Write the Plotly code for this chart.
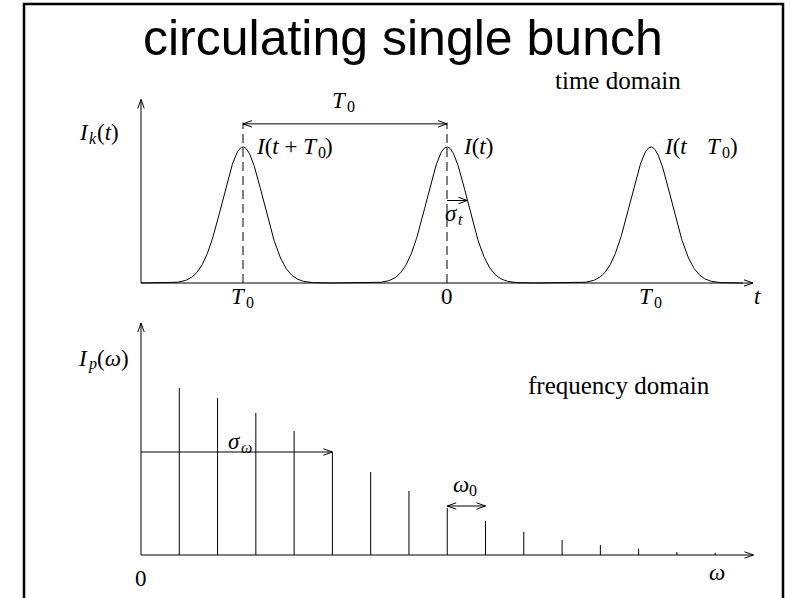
import numpy as np
import plotly.graph_objects as go

W, H = 791, 598

# --- time domain: bunch positions (in units of T0) and rms length ---
bunch_centers = [-1.0, 0.0, 1.0]
sigma_t = 0.1
time_ticks = [-1.0, 0.0, 1.0]

# --- frequency domain: harmonic index and spectral line heights ---
harmonics = list(range(1, 16))
line_heights = [1.67, 1.57, 1.42, 1.24, 1.03, 0.83, 0.64, 0.47,
                0.34, 0.23, 0.15, 0.10, 0.063, 0.03, 0.023]
sigma_w = 5  # in units of the revolution harmonic

# Each panel: pixel origin and pixels per data unit, plus the pixel box
# the subplot occupies (a little larger than the drawn axes so that
# lines on the axes are not clipped).
TIME = dict(ox=447, oy=283, sx=204, sy=136, box=(120, 770, 300, 88))
FREQ = dict(ox=141, oy=555, sx=38.28, sy=100, box=(120, 770, 565, 312))

px = lambda x: x / W          # pixel -> paper x
py = lambda y: 1 - y / H      # pixel -> paper y


def axis_setup(p):
    x0, x1, y0, y1 = p["box"]
    xr = [(x0 - p["ox"]) / p["sx"], (x1 - p["ox"]) / p["sx"]]
    yr = [(p["oy"] - y0) / p["sy"], (p["oy"] - y1) / p["sy"]]
    return ([px(x0), px(x1)], xr, [py(y0), py(y1)], yr)


def pix(p, x, y):
    """data -> page pixel position"""
    return (p["ox"] + x * p["sx"], p["oy"] - y * p["sy"])


fig = go.Figure()

# page frame drawn on a full-page pixel axis
fig.add_trace(go.Scatter(x=[24, 24, 783, 783], y=[H, 4, 4, H], mode="lines",
                         line=dict(color="black", width=2.5),
                         xaxis="x3", yaxis="y3", hoverinfo="skip"))

# bunch train
t = np.linspace(-1.5, 1.45, 1200)
current = np.zeros_like(t)
for c in bunch_centers:
    current += np.exp(-0.5 * ((t - c) / sigma_t) ** 2)
fig.add_trace(go.Scatter(x=t, y=current, mode="lines",
                         line=dict(color="black", width=1),
                         xaxis="x", yaxis="y", hoverinfo="skip"))

# dashed markers at -T0 and 0
dash_x, dash_y = [], []
for c in bunch_centers[:2]:
    dash_x += [c, c, None]
    dash_y += [0, 1.18, None]
fig.add_trace(go.Scatter(x=dash_x, y=dash_y, mode="lines",
                         line=dict(color="black", width=1, dash="9px,5px"),
                         xaxis="x", yaxis="y", hoverinfo="skip"))

# spectral lines
sx, sy = [], []
for k, h in zip(harmonics, line_heights):
    sx += [k, k, None]
    sy += [0, h, None]
fig.add_trace(go.Scatter(x=sx, y=sy, mode="lines",
                         line=dict(color="black", width=1),
                         xaxis="x2", yaxis="y2", hoverinfo="skip"))


# arrows with open chevron heads
HEAD_LEN, HEAD_HALF = 9.0, 3.2


def add_arrows(p, arrows, xa, ya):
    ax_, ay_ = [], []
    for (x0, y0, x1, y1, both) in arrows:
        ax_ += [x0, x1, None]
        ay_ += [y0, y1, None]
        ends = [((x0, y0), (x1, y1))]
        if both:
            ends.append(((x1, y1), (x0, y0)))
        for (bx, by), (tx, ty) in ends:
            dx, dy = (tx - bx) * p["sx"], (ty - by) * p["sy"]
            n = np.hypot(dx, dy)
            ux, uy = dx / n, dy / n
            for s in (1, -1):
                wx = -HEAD_LEN * ux + s * HEAD_HALF * (-uy)
                wy = -HEAD_LEN * uy + s * HEAD_HALF * ux
                ax_ += [tx + wx / p["sx"], tx, None]
                ay_ += [ty + wy / p["sy"], ty, None]
    fig.add_trace(go.Scatter(x=ax_, y=ay_, mode="lines",
                             line=dict(color="black", width=1),
                             xaxis=xa, yaxis=ya, hoverinfo="skip"))


add_arrows(TIME, [
    (-1.5, 0, -1.5, 1.35, False),                                   # current axis
    (-1.5, 0, 1.5, 0, False),                                        # time axis
    (bunch_centers[0], 1.17, bunch_centers[1], 1.17, True),          # T0 spacing
    (0, np.exp(-0.5), sigma_t, np.exp(-0.5), False),                 # sigma_t
], "x", "y")

add_arrows(FREQ, [
    (0, 0, 0, 2.32, False),                                          # spectrum axis
    (0, 0, 16.0, 0, False),                                          # frequency axis
    (0, line_heights[sigma_w - 1], sigma_w, line_heights[sigma_w - 1], False),
    (8, 0.49, 9, 0.49, True),                                        # omega_0 spacing
], "x2", "y2")

# ---------------- text ----------------
ann = []
SERIF = "Liberation Serif"
MAIN, SUB, SUB_DROP = 23, 16, 6


def text_at(x, y, text, size=MAIN, xanchor="center", yshift=0):
    ann.append(dict(x=px(x), y=py(y), xref="paper", yref="paper", text=text,
                    showarrow=False, xanchor=xanchor, yanchor="middle",
                    yshift=yshift, borderpad=0, borderwidth=0,
                    font=dict(family=SERIF, size=size, color="black")))


def formula(x, y, pieces):
    """pieces: (text, dx, kind) with kind 'r' = ends at x+dx,
    'l' = starts at x+dx, 's' = subscript starting at x+dx"""
    for txt, dx, kind in pieces:
        if kind == "s":
            text_at(x + dx, y, txt, size=SUB, xanchor="left", yshift=-SUB_DROP)
        else:
            text_at(x + dx, y, txt, xanchor="right" if kind == "r" else "left")


T_, I_, t_ = "<i>T</i>", "<i>I</i>", "<i>t</i>"
w_, s_ = "<i>ω</i>", "<i>σ</i>"

# time domain
x, y = pix(TIME, -0.5, 1.34)
formula(x, y, [(T_, 2, "r"), ("0", 2, "s")])
x, y = pix(TIME, 0.0, 0.51)
formula(x, y, [(s_, 11, "r"), (t_, 11, "s")])

x, y = pix(TIME, bunch_centers[0], 1.0)
formula(x, y, [(f"{I_}({t_} + {T_}", 75, "r"), ("0", 75, "s"), (")", 82, "l")])
x, y = pix(TIME, bunch_centers[1], 1.0)
formula(x, y, [(f"{I_}({t_})", 16, "l")])
x, y = pix(TIME, bunch_centers[2], 1.0)
formula(x, y, [(f"{I_}({t_}", 13, "l"), (T_, 71, "r"), ("0", 71, "s"), (")", 79, "l")])

for v in time_ticks:
    x, y = pix(TIME, v, -0.10)
    if v == 0:
        text_at(x, y, "0")
    else:
        formula(x, y, [(T_, 3, "r"), ("0", 3, "s")])
x, y = pix(TIME, 1.52, -0.10)
text_at(x, y, t_)

formula(89, 133, [(I_, 0, "r"), ("<i>k</i>", 0, "s"), (f"({t_})", 8, "l")])
text_at(618, 80, "time domain", size=25)

# frequency domain
x, y = pix(FREQ, 2.6, 1.14)
formula(x, y, [(s_, 0, "r"), (w_, 0, "s")])
x, y = pix(FREQ, 8.5, 0.71)
formula(x, y, [(w_, 3, "r"), ("0", 3, "s")])
x, y = pix(FREQ, 0, -0.23)
text_at(x, y, "0")
x, y = pix(FREQ, 15.05, -0.17)
text_at(x, y, w_)
formula(88, 358, [(I_, 0, "r"), ("<i>p</i>", 0, "s"), (f"({w_})", 9, "l")])
text_at(619, 385, "frequency domain", size=25)

# title
ann.append(dict(x=px(403), y=py(38), xref="paper", yref="paper",
                text="circulating single bunch", showarrow=False,
                xanchor="center", yanchor="middle", borderpad=0,
                font=dict(family="Liberation Sans", size=50, color="black")))

tdx, txr, tdy, tyr = axis_setup(TIME)
fdx, fxr, fdy, fyr = axis_setup(FREQ)

fig.update_layout(
    width=W, height=H,
    margin=dict(l=0, r=0, t=0, b=0),
    paper_bgcolor="white", plot_bgcolor="rgba(0,0,0,0)",
    showlegend=False,
    xaxis=dict(domain=tdx, range=txr, visible=False),
    yaxis=dict(domain=tdy, range=tyr, visible=False),
    xaxis2=dict(domain=fdx, range=fxr, visible=False, anchor="y2"),
    yaxis2=dict(domain=fdy, range=fyr, visible=False, anchor="x2"),
    xaxis3=dict(domain=[0, 1], range=[0, W], visible=False, anchor="y3"),
    yaxis3=dict(domain=[0, 1], range=[H, 0], visible=False, anchor="x3"),
    annotations=ann,
)

fig.write_html("out.html")
